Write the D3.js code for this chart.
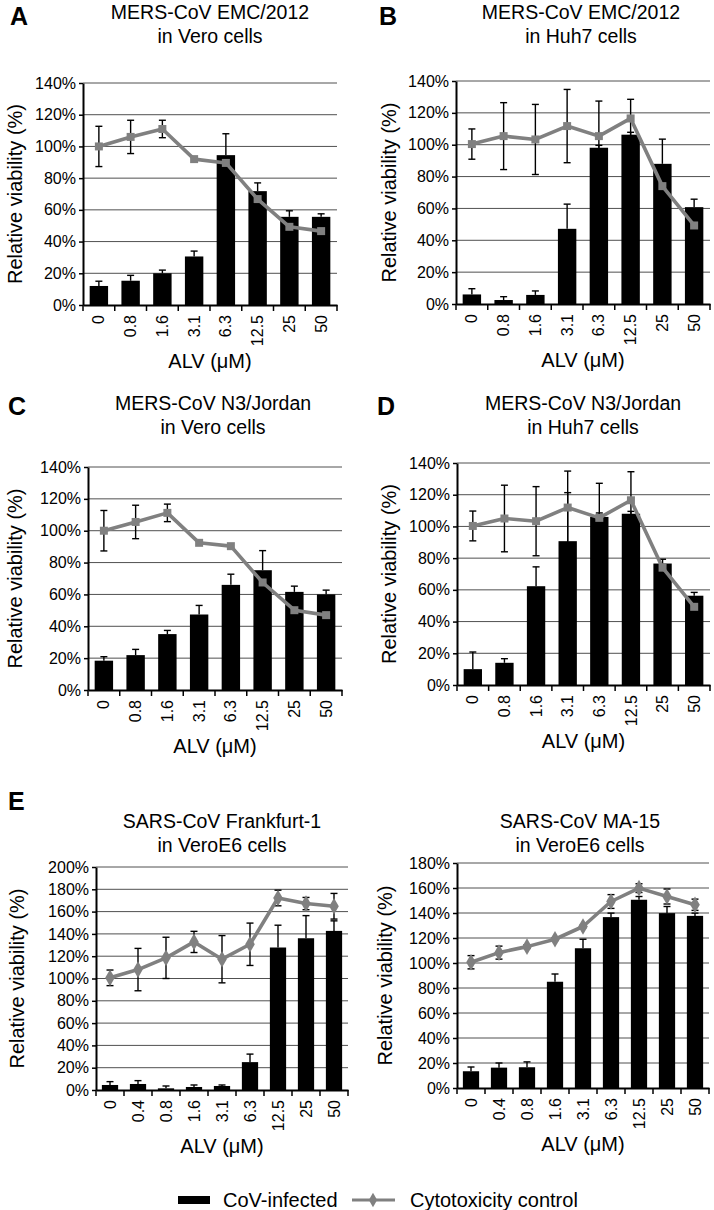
<!DOCTYPE html>
<html><head><meta charset="utf-8">
<script src="https://cdn.jsdelivr.net/npm/d3@7"></script>
<style>
html,body{margin:0;padding:0;background:#fff;}
svg{display:block;font-family:"Liberation Sans",Arial,Helvetica,sans-serif;}
</style></head>
<body>
<svg id="chart" width="714" height="1210"></svg>
<script>
// ---------- DATA ----------
const catsMERS = ["0","0.8","1.6","3.1","6.3","12.5","25","50"];
const catsSARS = ["0","0.4","0.8","1.6","3.1","6.3","12.5","25","50"];
const ticks140 = [0,20,40,60,80,100,120,140];
const ticks200 = [0,20,40,60,80,100,120,140,160,180,200];
const ticks180 = [0,20,40,60,80,100,120,140,160,180];

// Panel A: MERS-CoV EMC/2012 in Vero
const barsA    = [12, 15.3, 20, 30.6, 94.5, 71.8, 55.6, 55.6];
const barErrA  = [3, 3.4, 2, 3.4, 13.5, 5.2, 3.8, 1.9];
const ctrlA    = [100, 106, 111, 92, 89.6, 66.8, 49.3, 46.6];
const ctrlErrA = [12.7, 10.5, 5.5, 0, 0, 0, 0, 0];

// Panel B: MERS-CoV EMC/2012 in Huh7
const barsB    = [6, 2.5, 5.7, 47.2, 98.1, 106.3, 88, 60.8];
const barErrB  = [3.6, 2.1, 2.5, 15.5, 1.5, 1.5, 15.5, 5];
const ctrlB    = [100.4, 105.4, 103.3, 111.7, 105.4, 116.5, 74, 49.3];
const ctrlErrB = [9.5, 21, 22, 23, 22, 12, 0, 0];

// Panel C: MERS-CoV N3/Jordan in Vero
const barsC    = [18.4, 21.9, 35.1, 47.4, 66, 75.2, 61.6, 60];
const barErrC  = [2.5, 3.6, 2.3, 5.7, 6.7, 12.3, 3.6, 2.7];
const ctrlC    = [100, 105.5, 111.2, 92.4, 90.3, 67.5, 50.1, 47];
const ctrlErrC = [12.7, 10.5, 5.5, 0, 0, 0, 0, 0];

// Panel D: MERS-CoV N3/Jordan in Huh7
const barsD    = [10, 14, 62.3, 90.7, 106, 108, 76.6, 56.3];
const barErrD  = [10.8, 2.6, 12.2, 30.6, 2.5, 1.5, 2.7, 2.1];
const ctrlD    = [100.3, 105, 103.3, 111.9, 105.4, 116.5, 74, 49.3];
const ctrlErrD = [9.4, 21, 21.8, 23, 21.8, 18, 0, 0];

// Panel E (left): SARS-CoV Frankfurt-1 in VeroE6
const barsE1    = [4.5, 5.4, 1.5, 2.7, 3.6, 25, 127.8, 136.1, 142.7];
const barErrE1  = [3, 3, 2.1, 1.8, 0.9, 7.2, 20, 20.3, 9];
const ctrlE1    = [100.6, 108, 118.5, 132.8, 117.3, 130.7, 172.2, 167.2, 164.8];
const ctrlErrE1 = [7, 19, 18.5, 9.5, 21.2, 19, 7, 5.5, 11.5];

// Panel E (right): SARS-CoV MA-15 in VeroE6
const barsE2    = [13.4, 16.3, 16.6, 85, 111.8, 136.7, 150.6, 139.9, 137.7];
const barErrE2  = [3.4, 3.7, 4.3, 6.2, 7.2, 3.2, 2.6, 5.3, 2.2];
const ctrlE2    = [100.6, 108.3, 113.1, 119, 129.2, 149.2, 159.9, 153.2, 146.6];
const ctrlErrE2 = [5.3, 5.2, 1.5, 1, 1, 5.5, 3.5, 6, 4.5];

const legendLabels = ["CoV-infected", "Cytotoxicity control"];

// ---------- LAYOUT ----------
const panels = [
  {label:"A", lx:10, ly:25, title:["MERS-CoV EMC/2012","in Vero cells"], tx:210, ty:19,
   x0:83, x1:337, yTop:83, yBot:305, ymax:140, ticks:ticks140, cats:catsMERS,
   bars:barsA, barErr:barErrA, ctrl:ctrlA, ctrlErr:ctrlErrA, sym:d3.symbolSquare, ytx:15},
  {label:"B", lx:379, ly:25, title:["MERS-CoV EMC/2012","in Huh7 cells"], tx:581, ty:19,
   x0:456, x1:710, yTop:81, yBot:304, ymax:140, ticks:ticks140, cats:catsMERS,
   bars:barsB, barErr:barErrB, ctrl:ctrlB, ctrlErr:ctrlErrB, sym:d3.symbolSquare, ytx:389},
  {label:"C", lx:8, ly:415, title:["MERS-CoV N3/Jordan","in Vero cells"], tx:213, ty:410,
   x0:88, x1:342, yTop:467, yBot:690, ymax:140, ticks:ticks140, cats:catsMERS,
   bars:barsC, barErr:barErrC, ctrl:ctrlC, ctrlErr:ctrlErrC, sym:d3.symbolSquare, ytx:15},
  {label:"D", lx:377, ly:415, title:["MERS-CoV N3/Jordan","in Huh7 cells"], tx:583, ty:410,
   x0:457, x1:710, yTop:463, yBot:685, ymax:140, ticks:ticks140, cats:catsMERS,
   bars:barsD, barErr:barErrD, ctrl:ctrlD, ctrlErr:ctrlErrD, sym:d3.symbolSquare, ytx:389},
  {label:"E", lx:8, ly:810, title:["SARS-CoV Frankfurt-1","in VeroE6 cells"], tx:222, ty:828,
   x0:96, x1:348, yTop:867, yBot:1090, ymax:200, ticks:ticks200, cats:catsSARS,
   bars:barsE1, barErr:barErrE1, ctrl:ctrlE1, ctrlErr:ctrlErrE1, sym:d3.symbolDiamond, ytx:17},
  {label:"", lx:0, ly:0, title:["SARS-CoV MA-15","in VeroE6 cells"], tx:580, ty:828,
   x0:457, x1:709, yTop:863, yBot:1088, ymax:180, ticks:ticks180, cats:catsSARS,
   bars:barsE2, barErr:barErrE2, ctrl:ctrlE2, ctrlErr:ctrlErrE2, sym:d3.symbolDiamond, ytx:385}
];

const svg = d3.select("#chart");
const LINE_COL = "#808080";

function drawPanel(p) {
  const g = svg.append("g");
  const x = d3.scaleBand().domain(p.cats).range([p.x0, p.x1]).paddingInner(0.42).paddingOuter(0.21);
  const y = d3.scaleLinear().domain([0, p.ymax]).range([p.yBot, p.yTop]);
  const idx = d3.range(p.cats.length);
  const cx = i => x(p.cats[i]) + x.bandwidth() / 2;

  // panel letter
  if (p.label) g.append("text").attr("x", p.lx).attr("y", p.ly).attr("font-size", 25)
    .attr("font-weight", "bold").text(p.label);
  // title
  g.append("text").attr("x", p.tx).attr("y", p.ty).attr("text-anchor", "middle").attr("font-size", 19.5)
    .selectAll("tspan").data(p.title).join("tspan")
    .attr("x", p.tx).attr("dy", (d, i) => i ? 24 : 0).text(d => d);

  // gridlines
  g.selectAll(".grid").data(p.ticks.slice(1)).join("line")
    .attr("x1", p.x0).attr("x2", p.x1).attr("y1", d => y(d)).attr("y2", d => y(d))
    .attr("stroke", "#505050").attr("stroke-width", 1);

  // bars
  g.selectAll(".bar").data(idx).join("rect")
    .attr("x", i => x(p.cats[i])).attr("width", x.bandwidth())
    .attr("y", i => y(p.bars[i])).attr("height", i => y(0) - y(p.bars[i]))
    .attr("fill", "#000");
  // bar error (upward)
  const capW = 3.5;
  const be = g.selectAll(".be").data(idx.filter(i => p.barErr[i] > 0)).join("g");
  be.append("line").attr("x1", cx).attr("x2", cx)
    .attr("y1", i => y(p.bars[i])).attr("y2", i => y(p.bars[i] + p.barErr[i]))
    .attr("stroke", "#000").attr("stroke-width", 1.4);
  be.append("line").attr("x1", i => cx(i) - capW).attr("x2", i => cx(i) + capW)
    .attr("y1", i => y(p.bars[i] + p.barErr[i])).attr("y2", i => y(p.bars[i] + p.barErr[i]))
    .attr("stroke", "#000").attr("stroke-width", 1.4);

  // control error bars (both directions)
  const ce = g.selectAll(".ce").data(idx.filter(i => p.ctrlErr[i] > 0)).join("g");
  ce.append("line").attr("x1", cx).attr("x2", cx)
    .attr("y1", i => y(p.ctrl[i] - p.ctrlErr[i])).attr("y2", i => y(p.ctrl[i] + p.ctrlErr[i]))
    .attr("stroke", "#000").attr("stroke-width", 1.4);
  [-1, 1].forEach(s => {
    ce.append("line").attr("x1", i => cx(i) - capW).attr("x2", i => cx(i) + capW)
      .attr("y1", i => y(p.ctrl[i] + s * p.ctrlErr[i])).attr("y2", i => y(p.ctrl[i] + s * p.ctrlErr[i]))
      .attr("stroke", "#000").attr("stroke-width", 1.4);
  });

  // control line
  const line = d3.line().x(i => cx(i)).y(i => y(p.ctrl[i]));
  g.append("path").datum(idx).attr("d", line).attr("fill", "none")
    .attr("stroke", LINE_COL).attr("stroke-width", 3.6).attr("stroke-linejoin", "round");
  const sym = d3.symbol().type(p.sym).size(p.sym === d3.symbolSquare ? 64 : 80);
  g.selectAll(".mk").data(idx).join("path")
    .attr("transform", i => `translate(${cx(i)},${y(p.ctrl[i])})`)
    .attr("d", sym).attr("fill", LINE_COL);

  // y axis
  const ya = g.append("g").attr("transform", `translate(${p.x0},0)`)
    .call(d3.axisLeft(y).tickValues(p.ticks).tickFormat(d => d + "%").tickSize(4).tickSizeOuter(0).tickPadding(3));
  ya.select(".domain").attr("stroke-width", 2);
  ya.selectAll(".tick line").attr("stroke-width", 1.5);
  ya.selectAll("text").attr("font-size", 16).attr("fill", "#000")
    .attr("font-family", '"Liberation Sans",Arial,sans-serif');

  // x axis
  const xa = g.append("g").attr("transform", `translate(0,${p.yBot})`)
    .call(d3.axisBottom(x).tickSize(0).tickSizeOuter(0));
  xa.select(".domain").attr("stroke-width", 2);
  xa.selectAll("text").attr("font-size", 16).attr("fill", "#000")
    .attr("font-family", '"Liberation Sans",Arial,sans-serif')
    .attr("transform", "rotate(-90)").attr("text-anchor", "end")
    .attr("x", -10).attr("y", 0).attr("dy", "0.35em");
  // boundary ticks
  const step = x.step();
  g.selectAll(".bt").data(d3.range(p.cats.length + 1)).join("line")
    .attr("x1", i => p.x0 + i * step).attr("x2", i => p.x0 + i * step)
    .attr("y1", p.yBot).attr("y2", p.yBot + 6)
    .attr("stroke", "#000").attr("stroke-width", 1.5);

  // axis titles
  const xm = (p.x0 + p.x1) / 2;
  g.append("text").attr("x", xm).attr("y", p.yBot + 63).attr("text-anchor", "middle")
    .attr("font-size", 20).text("ALV (\u03BCM)");
  const ym = (p.yTop + p.yBot) / 2;
  g.append("text").attr("transform", `translate(${p.ytx},${ym}) rotate(-90)`)
    .attr("text-anchor", "middle").attr("dy", "0.35em").attr("font-size", 20)
    .text("Relative viability (%)");
}

panels.forEach(drawPanel);

// legend
const lg = svg.append("g");
lg.append("rect").attr("x", 178).attr("y", 1196).attr("width", 32).attr("height", 8).attr("fill", "#000");
lg.append("text").attr("x", 223).attr("y", 1207).attr("font-size", 20).text(legendLabels[0]);
lg.append("line").attr("x1", 352).attr("x2", 395).attr("y1", 1200).attr("y2", 1200)
  .attr("stroke", LINE_COL).attr("stroke-width", 3);
lg.append("path").attr("transform", "translate(373,1200)")
  .attr("d", d3.symbol().type(d3.symbolDiamond).size(60)).attr("fill", LINE_COL);
lg.append("text").attr("x", 410).attr("y", 1207).attr("font-size", 20).text(legendLabels[1]);
</script>
</body></html>
